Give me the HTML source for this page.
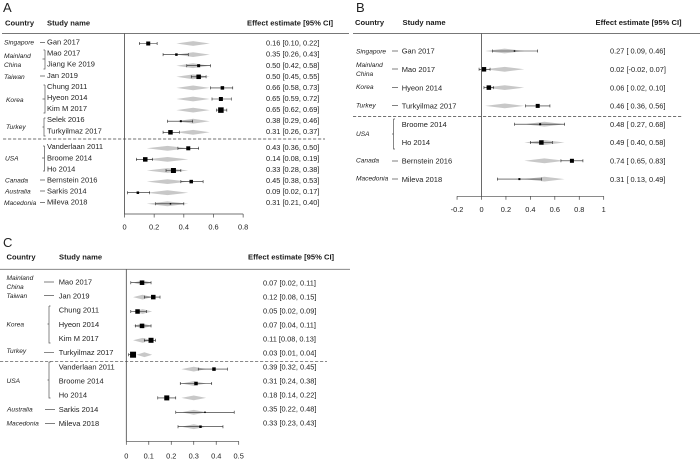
<!DOCTYPE html>
<html>
<head>
<meta charset="utf-8">
<style>
html,body{margin:0;padding:0;background:#fff;width:700px;height:461px;overflow:hidden}
svg{display:block;font-family:"Liberation Sans",sans-serif}
.h{font-size:7.6px;font-weight:bold;fill:#1a1a1a}
.c{font-size:6.6px;font-style:italic;fill:#222}
.s{font-size:7.5px;fill:#222}
.v{font-size:7.4px;fill:#222}
.t{font-size:7.4px;fill:#222;text-anchor:middle}
.p{font-size:13px;fill:#222}
</style>
</head>
<body>
<svg id="chart" width="700" height="461" viewBox="0 0 700 461" xmlns="http://www.w3.org/2000/svg">
<rect width="700" height="461" fill="#fff"/>
<g id="blur-layer" style="filter:blur(0.3px)">
<text class="p" x="3" y="12">A</text>
<text class="p" x="356" y="12">B</text>
<text class="p" x="3" y="247">C</text>

<g>
<text class="h" x="5" y="25.5">Country</text><text class="h" x="47" y="25.5">Study name</text><text class="h" x="247" y="25.5">Effect estimate [95% CI]</text>
</g>
<g>
<text class="h" x="355" y="25">Country</text><text class="h" x="402.5" y="25">Study name</text><text class="h" x="595.5" y="25">Effect estimate [95% CI]</text>
</g>
<g>
<text class="h" x="6.5" y="259.5">Country</text><text class="h" x="59" y="259.5">Study name</text><text class="h" x="248" y="259.5">Effect estimate [95% CI]</text>
</g>

<g>
<text class="c" x="4" y="44.5">Singapore</text>
<text class="c" x="4" y="58">Mainland</text><text class="c" x="4" y="67">China</text>
<text class="c" x="4" y="79">Taiwan</text>
<text class="c" x="6" y="102">Korea</text>
<text class="c" x="6" y="129">Turkey</text>
<text class="c" x="5" y="160.5">USA</text>
<text class="c" x="5" y="182.5">Canada</text>
<text class="c" x="5" y="193.5">Australia</text>
<text class="c" x="4" y="205">Macedonia</text>
</g>
<g>
<text class="c" x="356" y="53.5">Singapore</text>
<text class="c" x="356" y="67">Mainland</text><text class="c" x="356" y="76">China</text>
<text class="c" x="356" y="89">Korea</text>
<text class="c" x="356" y="107.5">Turkey</text>
<text class="c" x="356" y="136">USA</text>
<text class="c" x="356" y="162.5">Canada</text>
<text class="c" x="356" y="180.5">Macedonia</text>
</g>
<g>
<text class="c" x="6.5" y="280">Mainland</text><text class="c" x="6.5" y="289">China</text>
<text class="c" x="6.5" y="298">Taiwan</text>
<text class="c" x="6.5" y="326.5">Korea</text>
<text class="c" x="6.5" y="353">Turkey</text>
<text class="c" x="6.5" y="383">USA</text>
<text class="c" x="7" y="411.5">Australia</text>
<text class="c" x="6.5" y="425.7">Macedonia</text>
</g>

<g stroke="#555" stroke-width="0.7" fill="none">
<path d="M40 42.5H45M40 76H45M40 180H45M40 191H45M40 202.5H45"/>
<path d="M45 50V69H43.5M45 50H43.5M45 59H42.5"/>
<path d="M45 85V113H43.5M45 85H43.5M45 99H42.5"/>
<path d="M44 118V136H45.5M44 118H45.5M44 127H42.5"/>
<path d="M44.5 146V171H43M44.5 146H43M44.5 158H42"/>
</g>
<g stroke="#555" stroke-width="0.7" fill="none">
<path d="M392 51H398M392 69H398M392 87.5H398M392 105.5H398M392 161H398M392 179H398"/>
<path d="M393.5 119V149H395M393.5 119H395M393.5 134H392"/>
</g>
<g stroke="#555" stroke-width="0.7" fill="none">
<path d="M44 282H54M44 295.5H54M45 409.5H55M45 423.5H55"/>
<path d="M49 306V343H50.5M49 306H50.5M49 324H47.5"/>
<path d="M49 362V398H50.5M49 362H50.5M49 380H47.5"/>
<path d="M44 352.5H54"/>
</g>
<g id="plots"></g>
</g>
</svg>
<script>
// Panel A data
var aStudies = ["Gan 2017","Mao 2017","Jiang Ke 2019","Jan 2019","Chung 2011","Hyeon 2014","Kim M 2017","Selek 2016","Turkyilmaz  2017","Vanderlaan 2011","Broome 2014","Ho 2014","Bernstein 2016","Sarkis 2014","Mileva 2018"];
var aEst = [0.16,0.35,0.50,0.50,0.66,0.65,0.65,0.38,0.31,0.43,0.14,0.33,0.45,0.09,0.31];
var aLow = [0.10,0.26,0.42,0.45,0.58,0.59,0.62,0.29,0.26,0.36,0.08,0.28,0.38,0.02,0.21];
var aHigh = [0.22,0.43,0.58,0.55,0.73,0.72,0.69,0.46,0.37,0.50,0.19,0.38,0.53,0.17,0.40];
var aWeight = [4,2.5,3,4.5,3.5,4,5.5,2,4.5,4,4.5,5,3.5,2.5,1.5];
var aPooledLow = [0.35,0.35,0.35,0.35,0.35,0.35,0.35,0.35,0.35,0.15,0.15,0.15,0.15,0.15,0.15];
var aPooledHigh = [0.575,0.575,0.575,0.575,0.575,0.575,0.575,0.575,0.575,0.43,0.43,0.43,0.43,0.43,0.43];
var aTicks = [0,0.2,0.4,0.6,0.8];
var aTickLabels = ["0","0.2","0.4","0.6","0.8"];

// Panel B data
var bStudies = ["Gan 2017","Mao 2017","Hyeon 2014","Turkyilmaz  2017","Broome 2014","Ho 2014","Bernstein 2016","Mileva 2018"];
var bEst = [0.27,0.02,0.06,0.46,0.48,0.49,0.74,0.31];
var bLow = [0.09,-0.02,0.02,0.36,0.27,0.40,0.65,0.13];
var bHigh = [0.46,0.07,0.10,0.56,0.68,0.58,0.83,0.49];
var bWeight = [1.5,4.5,4.5,4,2,4.5,4,2];
var bPooledLow = [0.03,0.03,0.03,0.03,0.35,0.35,0.35,0.35];
var bPooledHigh = [0.35,0.35,0.35,0.35,0.68,0.68,0.68,0.68];
var bTicks = [-0.2,0,0.2,0.4,0.6,0.8,1];
var bTickLabels = ["-0.2","0","0.2","0.4","0.6","0.8","1"];

// Panel C data
var cStudies = ["Mao 2017","Jan 2019","Chung 2011","Hyeon 2014","Kim M 2017","Turkyilmaz  2017","Vanderlaan 2011","Broome 2014","Ho 2014","Sarkis 2014","Mileva 2018"];
var cEst = [0.07,0.12,0.05,0.07,0.11,0.03,0.39,0.31,0.18,0.35,0.33];
var cLow = [0.02,0.08,0.02,0.04,0.08,0.01,0.32,0.24,0.14,0.22,0.23];
var cHigh = [0.11,0.15,0.09,0.11,0.13,0.04,0.45,0.38,0.22,0.48,0.43];
var cWeight = [4.5,4.5,4.5,4.5,5,6,3.5,3.5,5,1.5,2.5];
var cPooledLow = [0.03,0.03,0.03,0.03,0.03,0.046,0.245,0.245,0.245,0.245,0.245];
var cPooledHigh = [0.115,0.115,0.115,0.115,0.115,0.115,0.355,0.355,0.355,0.355,0.355];
var cTicks = [0,0.1,0.2,0.3,0.4,0.5];
var cTickLabels = ["0","0.1","0.2","0.3","0.4","0.5"];

var NS = "http://www.w3.org/2000/svg";
var root = document.getElementById("plots");

function add(parent, tag, attrs, text) {
  var el = document.createElementNS(NS, tag);
  for (var k in attrs) { el.setAttribute(k, attrs[k]); }
  if (text !== undefined) { el.textContent = text; }
  parent.appendChild(el);
  return el;
}

function drawPanel(key, cfg, studies, est, low, high, weight, pooledLow, pooledHigh, ticks, tickLabels) {
  var g = add(root, "g", {});
  
  
  function x(v) { return cfg.x0 + v * cfg.scale; }
  function y(i) { return cfg.top + cfg.step * i + (i >= cfg.gapAfter ? cfg.gap : 0); }
  function nameY(i) { return cfg.nameTop + cfg.nameStep * i + (i >= cfg.gapAfter ? cfg.nameGap : 0) + 2.7; }
  function valueY(i) { return cfg.valTop + cfg.valStep * i + (i >= cfg.gapAfter ? cfg.valGap : 0) + 2.65; }

  var headerLine = add(g, "line", {x1: cfg.lineX1, x2: cfg.lineX2, y1: cfg.lineY, y2: cfg.lineY, stroke: "#777", "stroke-width": 0.9});
  
  

  var dashed = add(g, "line", {x1: cfg.dashX1, x2: cfg.dashX2, y1: cfg.dashY, y2: cfg.dashY, stroke: "#444", "stroke-width": 0.7, "stroke-dasharray": "3.2 1.8"});
  
  

  for (var i = 0; i < studies.length; i++) {
    var cy = y(i);
    var lo = x(pooledLow[i]), hi = x(pooledHigh[i]);
    var d = add(g, "polygon", {points: lo + "," + cy + " " + ((lo + hi) / 2) + "," + (cy - 2.4) + " " + hi + "," + cy + " " + ((lo + hi) / 2) + "," + (cy + 2.4), fill: "#c8c8c8"});
    
    

    var ci = add(g, "path", {d: "M" + x(low[i]) + " " + (cy - 1.5) + "V" + (cy + 1.5) + "M" + x(low[i]) + " " + cy + "H" + x(high[i]) + "M" + x(high[i]) + " " + (cy - 1.5) + "V" + (cy + 1.5), stroke: "#222", "stroke-width": 0.6, fill: "none"});
    
    

    var w = weight[i];
    var sq = add(g, "rect", {x: x(est[i]) - w / 2, y: cy - w / 2, width: w, height: w, fill: "#000"});
    
    

    var name = add(g, "text", {"class": "s", x: cfg.studyX, y: nameY(i), "xml:space": "preserve"}, studies[i]);
    
    

    var label = cfg.spaced
      ? est[i].toFixed(2) + " [" + (low[i] < 0 ? "" : " ") + low[i].toFixed(2) + ", " + high[i].toFixed(2) + "]"
      : est[i].toFixed(2) + " [" + low[i].toFixed(2) + ", " + high[i].toFixed(2) + "]";
    var val = add(g, "text", {"class": "v", x: cfg.valueX, y: valueY(i)}, label);
    
    
  }

  var zero = add(g, "line", {x1: x(0), x2: x(0), y1: cfg.lineY, y2: cfg.axisY, stroke: "#444", "stroke-width": 0.8});
  
  

  var axis = add(g, "line", {x1: x(ticks[0]), x2: x(ticks[ticks.length - 1]), y1: cfg.axisY, y2: cfg.axisY, stroke: "#444", "stroke-width": 0.7});
  
  

  for (var t = 0; t < ticks.length; t++) {
    var tk = add(g, "line", {x1: x(ticks[t]), x2: x(ticks[t]), y1: cfg.axisY, y2: cfg.axisY + 3.5, stroke: "#444", "stroke-width": 0.7});
    
    
    var tl = add(g, "text", {"class": "t", x: x(ticks[t]), y: cfg.axisY + cfg.tickDy}, tickLabels[t]);
    
    
  }
}

drawPanel("a", {x0:124.5, scale:148.3, top:43.5, step:11.1, gapAfter:9, gap:4.9, nameTop:41.8, nameStep:11.1, nameGap:4.8, valTop:43, valStep:11.05, valGap:4.7, lineX1:2, lineX2:349, lineY:33.5, dashX1:3, dashX2:325, dashY:139, axisY:214, tickDy:15.4, studyX:47, valueX:266, spaced:false},
  aStudies, aEst, aLow, aHigh, aWeight, aPooledLow, aPooledHigh, aTicks, aTickLabels);
drawPanel("b", {x0:481.5, scale:122.2, top:51, step:18.3, gapAfter:99, gap:0, nameTop:51, nameStep:18.3, nameGap:0, valTop:51, valStep:18.3, valGap:0, lineX1:353, lineX2:700, lineY:33.5, dashX1:353, dashX2:683, dashY:116.5, axisY:196.3, tickDy:15.7, studyX:401.7, valueX:610, spaced:true},
  bStudies, bEst, bLow, bHigh, bWeight, bPooledLow, bPooledHigh, bTicks, bTickLabels);
drawPanel("c", {x0:126.3, scale:224.8, top:282.7, step:14.4, gapAfter:99, gap:0, nameTop:281.7, nameStep:14.15, nameGap:0, valTop:282.7, valStep:14.0, valGap:0, lineX1:0, lineX2:350, lineY:269.3, dashX1:0, dashX2:327, dashY:361.3, axisY:441.3, tickDy:17, studyX:58.7, valueX:263, spaced:false},
  cStudies, cEst, cLow, cHigh, cWeight, cPooledLow, cPooledHigh, cTicks, cTickLabels);
</script>
</body>
</html>
